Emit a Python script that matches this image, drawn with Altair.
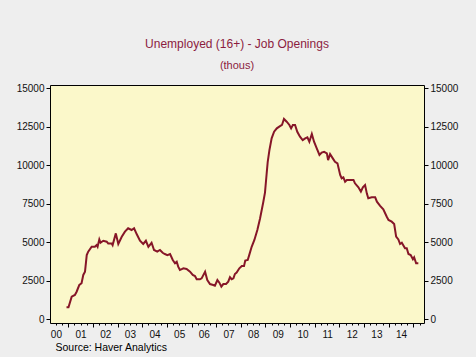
import altair as alt
import pandas as pd

# Decimal-year positions of the traced points and the values (thousands)
years = [2000.93, 2001.01, 2001.14, 2001.27, 2001.34, 2001.45, 2001.54, 2001.61, 2001.68, 2001.75,
         2001.81, 2001.95, 2002.08, 2002.15, 2002.19, 2002.26, 2002.31, 2002.42, 2002.56, 2002.62,
         2002.76, 2002.80, 2002.93, 2003.03, 2003.17, 2003.30, 2003.43, 2003.57, 2003.67, 2003.78,
         2003.91, 2004.04, 2004.15, 2004.25, 2004.38, 2004.48, 2004.61, 2004.72, 2004.83, 2004.92,
         2005.02, 2005.13, 2005.24, 2005.33, 2005.40, 2005.46, 2005.53, 2005.67, 2005.80, 2005.94,
         2006.05, 2006.14, 2006.21, 2006.34, 2006.41, 2006.55, 2006.64, 2006.75, 2006.88, 2006.95,
         2007.05, 2007.13, 2007.21, 2007.29, 2007.40, 2007.49, 2007.56, 2007.63, 2007.70, 2007.76,
         2007.83, 2007.94, 2008.04, 2008.13, 2008.18, 2008.28, 2008.34, 2008.44, 2008.55, 2008.67,
         2008.78, 2008.91, 2008.98, 2009.05, 2009.09, 2009.16, 2009.25, 2009.35, 2009.46, 2009.56,
         2009.67, 2009.75, 2009.86, 2009.97, 2010.04, 2010.11, 2010.20, 2010.29, 2010.40, 2010.51,
         2010.61, 2010.70, 2010.78, 2010.88, 2010.97, 2011.08, 2011.19, 2011.28, 2011.38, 2011.49,
         2011.54, 2011.62, 2011.73, 2011.82, 2011.92, 2012.03, 2012.09, 2012.16, 2012.23, 2012.30,
         2012.43, 2012.57, 2012.63, 2012.77, 2012.87, 2012.95, 2013.04, 2013.11, 2013.17, 2013.31,
         2013.45, 2013.52, 2013.65, 2013.78, 2013.92, 2013.99, 2014.12, 2014.22, 2014.30, 2014.39,
         2014.46, 2014.53, 2014.66, 2014.73, 2014.80, 2014.89, 2014.98, 2015.03, 2015.11, 2015.20]

values = [780, 780, 1470, 1580, 1790, 2230, 2340, 2880, 3090, 4170,
          4390, 4710, 4710, 4820, 4710, 5190, 4970, 5100, 5040, 4930,
          4930, 4820, 5580, 4890, 5360, 5690, 5910, 5800, 5910, 5520,
          5100, 4890, 5100, 4710, 4970, 4500, 4390, 4500, 4320, 4240,
          4170, 4240, 3850, 3640, 3740, 3420, 3200, 3310, 3270, 3090,
          2880, 2810, 2600, 2600, 2660, 3090, 2550, 2290, 2230, 2180,
          2550, 2380, 2120, 2290, 2290, 2440, 2730, 2600, 2660, 2940,
          3030, 3310, 3460, 3460, 3810, 3850, 4170, 4710, 5150, 5800,
          6550, 7600, 8230, 9500, 10200, 10990, 11750, 12180, 12400, 12510,
          12620, 13010, 12830, 12620, 12400, 12620, 12620, 12180, 11860, 11640,
          11750, 11820, 11530, 12030, 11530, 11100, 10670, 10820, 10880, 10780,
          10340, 10730, 10450, 10230, 10130, 9370, 9160, 9220, 8940, 9050,
          9050, 9050, 8830, 8570, 8290, 8570, 8720, 8180, 7860, 7920,
          7920, 7640, 7360, 7140, 6660, 6450, 6340, 6190, 5370, 5190,
          4890, 4970, 4610, 4610, 4240, 4170, 3900, 4030, 3640, 3640]

year_ticks = list(range(2001, 2016))
quarter_ticks = [y + q for y in range(2000, 2016) for q in (0.25, 0.5, 0.75)]
label_pos = [y + 0.5 for y in range(2000, 2015)]
y_ticks = [0, 2500, 5000, 7500, 10000, 12500, 15000]

df = pd.DataFrame({"t": years, "v": values})

x_dom = [2000.26, 2015.43]
y_dom = [-240, 15215]
xs = alt.Scale(domain=x_dom, nice=False, zero=False)
ys = alt.Scale(domain=y_dom, nice=False, zero=False)

label_font = "Liberation Sans"

line = alt.Chart(df).mark_line(color="#861628", strokeWidth=2).encode(
    x=alt.X("t:Q", scale=xs, axis=alt.Axis(
        values=year_ticks, tickSize=4, labels=False, domain=False, grid=False,
        tickColor="#000000",
        title="Source: Haver Analytics", titleX=5, titleY=27, titleAlign="left",
        titleAnchor="start", titleBaseline="alphabetic", titleFontSize=10.5,
        titleFontWeight="normal", titleColor="#000000", titleFont=label_font)),
    y=alt.Y("v:Q", scale=ys, axis=alt.Axis(
        orient="left", values=y_ticks, tickSize=4, labelPadding=2, format="d",
        domain=False, grid=False, title=None, tickColor="#000000",
        labelFontSize=10, labelColor="#111111", labelFont=label_font)),
)

minor = alt.Chart(df).mark_line(opacity=0).encode(
    x=alt.X("t:Q", scale=xs, axis=alt.Axis(
        orient="bottom", values=quarter_ticks, tickSize=2, labels=False,
        domain=False, grid=False, title=None, tickColor="#000000")),
    y=alt.Y("v:Q", scale=ys, axis=None),
)

labels = alt.Chart(df).mark_line(opacity=0).encode(
    x=alt.X("t:Q", scale=xs, axis=alt.Axis(
        orient="bottom", values=label_pos, tickSize=0, labelPadding=6,
        labelExpr="format(floor(datum.value) - 2000, '02d')",
        labelFlush=False, labelOverlap=False, domain=False, grid=False, title=None,
        labelFontSize=10, labelColor="#111111", labelFont=label_font)),
    y=alt.Y("v:Q", scale=ys, axis=alt.Axis(
        orient="right", values=y_ticks, tickSize=4, labelPadding=2, format="d",
        domain=False, grid=False, title=None, tickColor="#000000",
        labelFontSize=10, labelColor="#111111", labelFont=label_font)),
)

chart = alt.layer(line, minor, labels).resolve_scale(
    x="independent", y="independent"
).properties(
    width=374,
    height=238,
    autosize=alt.AutoSizeParams(type="none"),
    padding={"left": 50, "top": 85, "right": 52, "bottom": 34},
    background="#EEEEEE",
    title=alt.TitleParams(
        text="Unemployed (16+) - Job Openings",
        subtitle="(thous)",
        anchor="middle",
        fontSize=12,
        fontWeight="normal",
        font=label_font,
        color="#8C1C3E",
        subtitleFontSize=11,
        subtitleFont=label_font,
        subtitleColor="#8C1C3E",
        subtitlePadding=9,
        offset=11,
    ),
).configure_view(
    fill="#FBF8CA",
    stroke="#000000",
    strokeWidth=1,
)

chart.save("out.html", embed_options={"renderer": "svg", "actions": False})
